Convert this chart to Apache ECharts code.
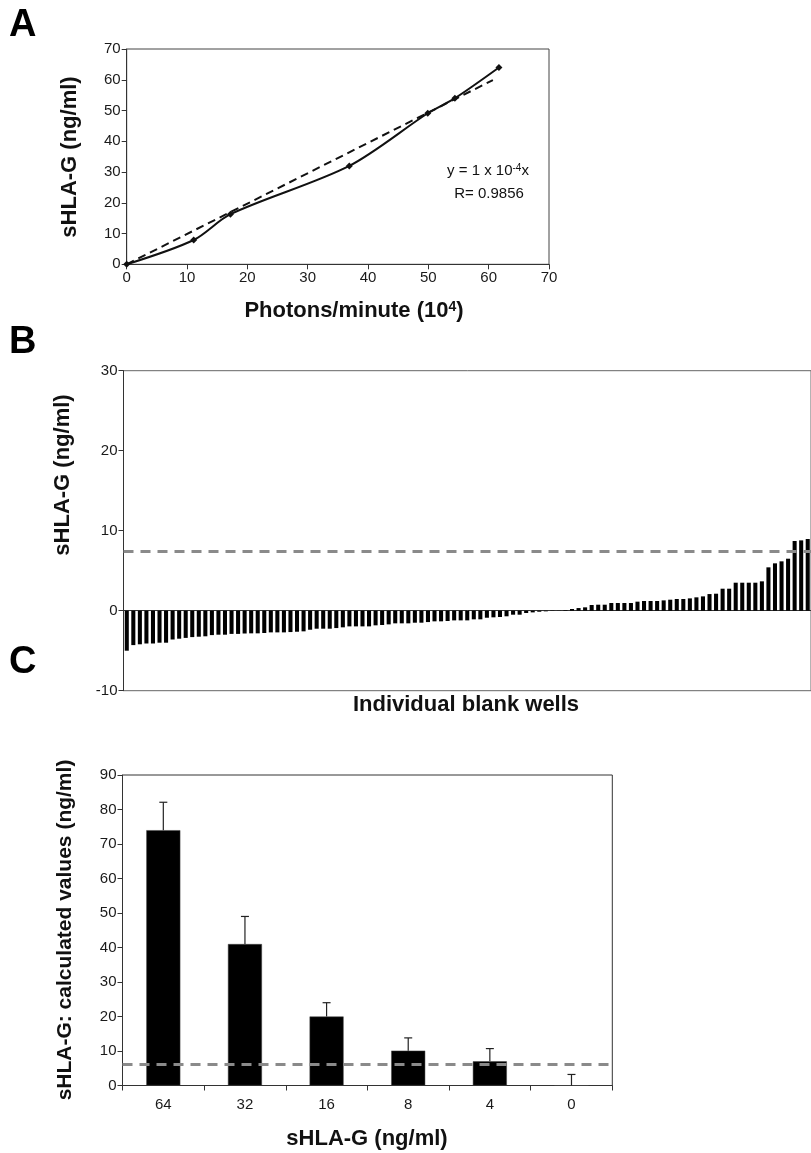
<!DOCTYPE html>
<html><head><meta charset="utf-8">
<script src="https://cdn.jsdelivr.net/npm/echarts@6/dist/echarts.min.js"></script>
<style>html,body{margin:0;padding:0;background:#fff}#c{width:811px;height:1153px}</style>
</head><body><div id="c"></div>
<script>
const FONT = '"Liberation Sans", Arial, Helvetica, sans-serif';

// ---------- Panel A: standard curve ----------
const aPhotons = [0, 11.1, 17.2, 36.9, 49.9, 54.4, 61.7];      // x (10^4 photons/min)
const aConc    = [0, 7.9, 16.3, 32.0, 49.1, 54.0, 64.0];       // sHLA-G ng/ml
const aFitX    = [0, 60.7];
const aFitY    = [0, 59.9];
const aTicksMax = 70;

// ---------- Panel B: individual blank wells ----------
const bValues = [
  -5.0, -4.3, -4.2, -4.1, -4.1, -4.0, -4.0, -3.6, -3.5, -3.4,
  -3.3, -3.25, -3.2, -3.05, -3.0, -3.0, -2.9, -2.9, -2.85, -2.83,
  -2.83, -2.79, -2.71, -2.71, -2.71, -2.67, -2.63, -2.58, -2.38, -2.25,
  -2.25, -2.25, -2.17, -2.08, -1.96, -1.96, -1.96, -1.96, -1.83, -1.79,
  -1.71, -1.58, -1.58, -1.58, -1.5, -1.5, -1.42, -1.33, -1.33, -1.29,
  -1.21, -1.21, -1.21, -1.08, -1.08, -0.88, -0.83, -0.79, -0.7, -0.5,
  -0.5, -0.29, -0.21, -0.13, -0.08, -0.04, -0.02,
  0.08, 0.21, 0.33, 0.42, 0.71, 0.75, 0.75, 0.96, 0.96, 0.96,
  0.96, 1.13, 1.21, 1.21, 1.21, 1.29, 1.375, 1.46, 1.46, 1.54,
  1.67, 1.79, 2.08, 2.125, 2.75, 2.75, 3.5, 3.5, 3.5, 3.5,
  3.67, 5.42, 5.92, 6.17, 6.5, 8.71, 8.79, 8.96
];
const bWells = bValues.map((_, i) => 'W' + (i + 1));
const bCutoff = 7.4;

// ---------- Panel C: calculated values ----------
const cCategories = ['64', '32', '16', '8', '4', '0'];
const cValues     = [74.0, 41.0, 20.0, 10.1, 7.0, 0];
const cErrTop     = [82.1, 49.0, 24.0, 13.8, 10.7, 3.2];
const cCutoff = 6.3;

const chart = echarts.init(document.getElementById('c'), null, {renderer: 'canvas'});

const axisLine = {show: true, lineStyle: {color: '#333', width: 1}};
const axisTick = {show: true, length: 5, inside: false, lineStyle: {color: '#333'}};
const axisLabel = {fontSize: 15, color: '#1a1a1a', fontFamily: FONT, margin: 6};

function titleText(text, x, y, rotate, size) {
  return {
    type: 'text', x: x, y: y, rotation: rotate ? Math.PI / 2 : 0,
    style: {text: text, font: 'bold ' + (size || 22) + 'px ' + FONT, fill: '#111',
            align: 'center', verticalAlign: 'middle'}
  };
}

const option = {
  backgroundColor: '#fff',
  animation: false,
  grid: [
    {left: 126.7, top: 49, width: 422.3, height: 215.3, show: true, borderColor: '#444', borderWidth: 1, containLabel: false},
    {left: 123.5, top: 370.7, width: 687.5, height: 320, show: true, borderColor: '#666', borderWidth: 1, containLabel: false},
    {left: 122.5, top: 775, width: 489.8, height: 310.5, show: true, borderColor: '#333', borderWidth: 1, containLabel: false}
  ],
  xAxis: [
    {gridIndex: 0, type: 'value', min: 0, max: aTicksMax, interval: 10, axisLine, axisTick, axisLabel, splitLine: {show: false}},
    {gridIndex: 1, type: 'category', data: bWells, axisLine: {show: true, onZero: true, lineStyle: {color: '#333', width: 1}},
     axisTick: {show: false}, axisLabel: {show: false}, splitLine: {show: false}},
    {gridIndex: 2, type: 'category', data: cCategories, axisLine, axisTick: {show: true, length: 5, lineStyle: {color: '#333'}},
     axisLabel: {fontSize: 15, color: '#1a1a1a', fontFamily: FONT, margin: 12}, splitLine: {show: false}}
  ],
  yAxis: [
    {gridIndex: 0, type: 'value', min: 0, max: 70, interval: 10, axisLine, axisTick, axisLabel, splitLine: {show: false}},
    {gridIndex: 1, type: 'value', min: -10, max: 30, interval: 10, axisLine, axisTick, axisLabel, splitLine: {show: false}},
    {gridIndex: 2, type: 'value', min: 0, max: 90, interval: 10, axisLine, axisTick, axisLabel, splitLine: {show: false}}
  ],
  series: [
    {
      type: 'line', xAxisIndex: 0, yAxisIndex: 0,
      data: aPhotons.map((x, i) => [x, aConc[i]]),
      smooth: 0.3, symbol: 'diamond', symbolSize: 7, showSymbol: true,
      lineStyle: {color: '#111', width: 2}, itemStyle: {color: '#111'}, z: 3
    },
    {
      type: 'line', xAxisIndex: 0, yAxisIndex: 0,
      data: aFitX.map((x, i) => [x, aFitY[i]]),
      symbol: 'none', lineStyle: {color: '#111', width: 2, type: [8, 5]}, z: 2
    },
    {
      type: 'bar', xAxisIndex: 1, yAxisIndex: 1, data: bValues,
      barCategoryGap: '38%', itemStyle: {color: '#000'},
      markLine: {
        silent: true, symbol: 'none', label: {show: false},
        lineStyle: {color: '#8a8a8a', width: 3, type: [10, 7]},
        data: [{yAxis: bCutoff}]
      }
    },
    {
      type: 'bar', xAxisIndex: 2, yAxisIndex: 2, data: cValues,
      barWidth: 34, itemStyle: {color: '#000', borderColor: '#444', borderWidth: 0.5},
      markLine: {
        silent: true, symbol: 'none', label: {show: false},
        lineStyle: {color: '#8a8a8a', width: 3, type: [10, 7]},
        data: [{yAxis: cCutoff}]
      }
    },
    {
      type: 'custom', xAxisIndex: 2, yAxisIndex: 2,
      data: cCategories.map((c, i) => [i, cValues[i], cErrTop[i]]),
      renderItem: function (params, api) {
        const base = api.coord([api.value(0), api.value(1)]);
        const top = api.coord([api.value(0), api.value(2)]);
        const st = {stroke: '#222', lineWidth: 1.2};
        return {
          type: 'group',
          children: [
            {type: 'line', shape: {x1: base[0], y1: base[1], x2: top[0], y2: top[1]}, style: st},
            {type: 'line', shape: {x1: top[0] - 4, y1: top[1], x2: top[0] + 4, y2: top[1]}, style: st}
          ]
        };
      },
      z: 5
    }
  ],
  graphic: [
    {type: 'text', left: 9, top: 7, style: {text: 'A', font: 'bold 38px ' + FONT, fill: '#000'}},
    {type: 'text', left: 9, top: 324, style: {text: 'B', font: 'bold 38px ' + FONT, fill: '#000'}},
    {type: 'text', left: 9, top: 644, style: {text: 'C', font: 'bold 38px ' + FONT, fill: '#000'}},
    titleText('sHLA-G (ng/ml)', 70, 157, true),
    {
      type: 'text', x: 354, y: 311,
      style: {
        text: 'Photons/minute (10{sup|4})',
        font: 'bold 22px ' + FONT, fill: '#111', align: 'center', verticalAlign: 'middle',
        rich: {sup: {font: 'bold 14px ' + FONT, fill: '#111', verticalAlign: 'top', lineHeight: 14}}
      }
    },
    {
      type: 'text', x: 488, y: 171,
      style: {
        text: 'y = 1 x 10{sup|-4}x',
        font: '15px ' + FONT, fill: '#111', align: 'center', verticalAlign: 'middle',
        rich: {sup: {font: '10px ' + FONT, fill: '#111', verticalAlign: 'top', lineHeight: 10}}
      }
    },
    {type: 'text', x: 489, y: 194, style: {text: 'R= 0.9856', font: '15px ' + FONT, fill: '#111', align: 'center', verticalAlign: 'middle'}},
    titleText('sHLA-G (ng/ml)', 63, 475, true),
    titleText('Individual blank wells', 466, 705, false),
    titleText('sHLA-G: calculated values (ng/ml)', 65, 930, true, 21),
    titleText('sHLA-G (ng/ml)', 367, 1139, false)
  ]
};
chart.setOption(option);
</script>
</body></html>
